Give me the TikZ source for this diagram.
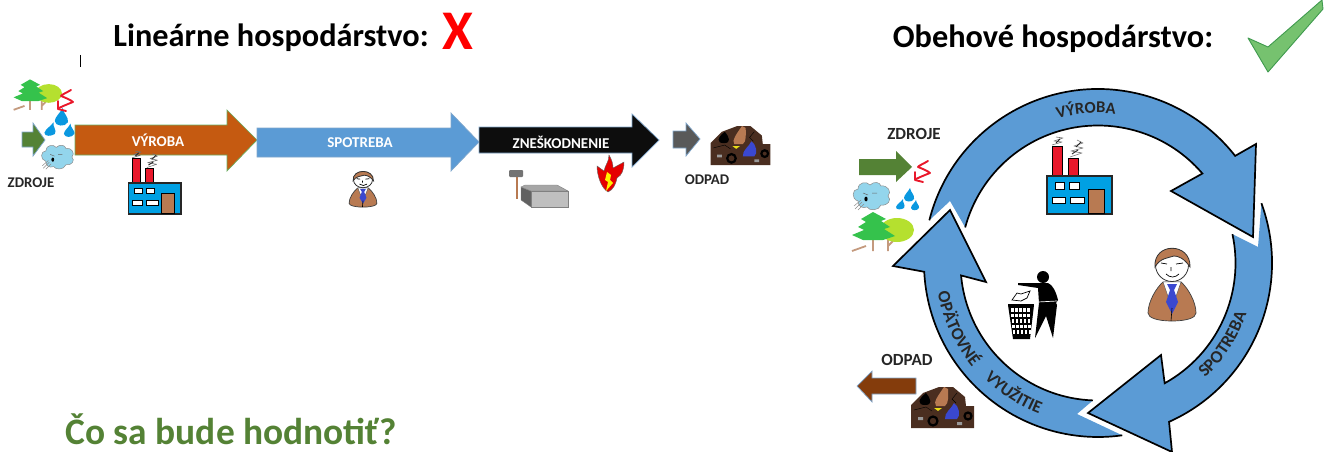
\documentclass[tikz,border=0pt]{standalone}
\usepackage{fontspec}
\setmainfont{Carlito}
\usetikzlibrary{decorations.text}
\definecolor{ringblue}{HTML}{5B9BD5}
\definecolor{edgeblue}{HTML}{7FA6CC}
\definecolor{orangeb}{HTML}{C55A11}
\definecolor{darkgreen}{HTML}{548235}
\definecolor{wood}{HTML}{843C0C}
\definecolor{tan}{HTML}{B87A52}
\definecolor{skyb}{HTML}{00A0E3}
\definecolor{heap}{HTML}{4A2E20}
\definecolor{firgreen}{HTML}{35C24C}
\definecolor{limeg}{HTML}{B5E02F}
\definecolor{trunk}{HTML}{C49A7E}
\definecolor{cloudb}{HTML}{93D5EC}
\definecolor{dropb}{HTML}{0A98E0}
\definecolor{redz}{HTML}{E9182B}
\definecolor{checkf}{HTML}{76C26F}
\definecolor{checke}{HTML}{3F9A4E}
\definecolor{tieblue}{HTML}{3A48D0}
\tikzset{
  flatarrow/.style={draw=edgeblue,line width=.7pt,line join=miter},
  ringfill/.style={fill=ringblue},
  ringline/.style={draw=black,line width=1.7pt,line join=miter},
  title/.style={font=\bfseries\fontsize{32.3}{34}\selectfont,anchor=center,inner sep=0pt},
  lbl/.style={font=\bfseries\fontsize{17}{18}\selectfont,inner sep=0pt,text=black!85},
  lbls/.style={font=\bfseries\fontsize{14.8}{16}\selectfont,inner sep=0pt,text=black!85},
  lblw/.style={font=\bfseries\fontsize{15}{16}\selectfont,inner sep=0pt,text=white},
  factorypic/.pic={
    \draw[black!55,line width=.6pt,line join=round] (-28,-35) -- (-18,-38) -- (-26,-39) -- (-17,-42) -- (-24,-43)
       (-10,-23) -- (2,-27) -- (-9,-29) -- (3,-32) -- (-6,-34) -- (3,-37) -- (-3,-40);
    \draw[black!85,line width=.9pt] (-24,-37) -- (-20,-41) (-8,-26) -- (-2,-30) (-4,-33) -- (1,-38);
    \fill[redz,draw=black,line width=.8pt] (-28,-34) rectangle (-18,-4);
    \fill[redz,draw=black,line width=.8pt] (-12,-22) rectangle (-2,-4);
    \fill[skyb,draw=black!85,line width=1.2pt] (-33,-4) rectangle (32,34);
    \fill[white,draw=black,line width=.8pt] (-25,2) rectangle (-16,9);
    \fill[white,draw=black,line width=.8pt] (-11,2) rectangle (-1,9);
    \fill[white,draw=black,line width=.8pt] (-28,17) rectangle (-15,23);
    \fill[white,draw=black,line width=.8pt] (-10,17) rectangle (4,23);
    \fill[tan,draw=black,line width=.8pt] (8,9) rectangle (24,33);
  },
  personpic/.pic={
    \fill[tan,draw=black!75,line width=.7pt] (-9,2) .. controls (-16,8) and (-24,22) .. (-24,33)
      .. controls (-24,38) and (-14,41) .. (0,41) .. controls (14,41) and (24,38) .. (24,33)
      .. controls (24,22) and (16,8) .. (9,2) -- cycle;
    \fill[white,draw=black!70,line width=.4pt] (-9,2) -- (9,2) -- (0,28) -- cycle;
    \fill[tieblue] (-5,4) -- (5,4) -- (2,10) -- (6,22) -- (0,34) -- (-6,22) -- (-2,10) -- cycle;
    \draw[black,line width=.6pt] (0,28) -- (-1,41);
    \fill[white,draw=black!80,line width=.8pt] (0,-15) circle (16.5);
    \fill[tan,draw=black!80,line width=.8pt] (-17,-13) .. controls (-19,-38) and (19,-38) .. (18,-13)
      .. controls (12,-22) and (6,-24) .. (2,-24) .. controls (-4,-22) and (-12,-22) .. (-17,-13) -- cycle;
    \draw[black,line width=.7pt] (-11,-17) -- (-5,-16) (4,-16) -- (11,-17) (-1,-13) -- (-1,-9)
      (-6,-6) .. controls (-2,-2) and (3,-2) .. (7,-6);
  },
  heappic/.pic={
    \fill[heap] (-31,20) -- (-31,-3) -- (-19,-15) -- (-3,-21) -- (11,-21) -- (23,-11) -- (24,-2) -- (32,-2) -- (32,20) -- cycle;
    \fill[tan] (-6,-2) .. controls (-9,-6) and (-4,-12) .. (2,-21) -- (6,-19) .. controls (6,-12) and (7,-5) .. (3,-2) -- cycle;
    \fill[black] (-17,-3) .. controls (-25,-3) and (-24,-9) .. (-16,-15) .. controls (-11,-9) and (-9,-3) .. (-17,-3) -- cycle;
    \fill[tieblue] (3,11) .. controls (2,5) and (10,0) .. (12,-5) .. controls (17,-2) and (19,8) .. (15,11) -- cycle;
    \fill[yellow!90!black] (-8,0) -- (0,0) -- (-4,3) -- cycle;
    \draw[black,line width=2.2pt] (-9,13) circle (4.5) (26,8) circle (3.5);
    \fill[black!40] (-24,9) rectangle (-19,12) (15,14) rectangle (20,17);
    \draw[black,line width=.4pt] (-28,2) -- (-16,-1) -- (-10,3) (15,-15) -- (10,-9) -- (14,-5);
  },
  cloudpic/.pic={
    \fill[cloudb,draw=black!45,line width=.5pt] (-14,5) .. controls (-21,3) and (-20,-7) .. (-14,-7)
      .. controls (-14,-14) and (-5,-15) .. (-2,-11) .. controls (2,-15) and (8,-14) .. (9,-10)
      .. controls (16,-11) and (20,-4) .. (16,0) .. controls (20,4) and (16,10) .. (9,9)
      .. controls (7,15) and (-3,15) .. (-5,11) .. controls (-10,13) and (-14,10) .. (-14,5) -- cycle;
    \fill[black] (-6,3) ellipse (1.6 and 2.4);
    \draw[black!60,line width=.5pt] (-9,-3) -- (-4,-1) (0,-3) -- (5,-3);
    \draw[black!45,line width=.5pt] (-10,6) -- (-17,13) (-8,8) -- (-14,14) (-11,4) -- (-18,10);
  },
  dropspic/.pic={
    \fill[dropb] (2,-10) .. controls (3,-5) and (7,-3) .. (6,1) .. controls (4,5) and (-4,4) .. (-4,0) .. controls (-4,-3) and (0,-6) .. (2,-10) -- cycle;
    \fill[dropb] (-5,1) .. controls (-6,4) and (-2,7) .. (-4,10) .. controls (-7,12) and (-12,12) .. (-12,9) .. controls (-11,6) and (-7,4) .. (-5,1) -- cycle;
    \fill[dropb] (8,2) .. controls (8,5) and (12,8) .. (11,10) .. controls (9,13) and (4,13) .. (3,10) .. controls (3,7) and (7,5) .. (8,2) -- cycle;
  },
  treespic/.pic={
    \draw[trunk,line width=1.8pt] (-21,19) -- (-7,14) (0,8) -- (0,19) (15,8) -- (15,19) (15,14) -- (20,9);
    \fill[limeg] (24,-2) ellipse (17 and 12);
    \fill[firgreen] (0,-20) -- (13,-13) -- (8,-11) -- (17,-5) -- (11,-3) -- (22,4) -- (10,8) -- (-10,8) -- (-21,3) -- (-9,-2) -- (-15,-5) -- (-7,-10) -- (-12,-13) -- cycle;
  },
  boltpic/.pic={
    \draw[redz,line width=1.9pt,line join=round,line cap=round] (13,-11) .. controls (8,-8) and (3,-6) .. (3,-5) .. controls (8,-3) and (13,-1) .. (15,1) .. controls (10,3) and (5,5) .. (1,7);
    \draw[redz,line width=1.9pt,line cap=round,line join=round] (0,0) -- (0,8) -- (8,10);
  },
}
\begin{document}
\begin{tikzpicture}[x=1pt,y=-1pt]
\useasboundingbox (0,0) rectangle (1325,452);
\coordinate (ringc) at (1098,263);

% titles
\node[title] (t1) at (271,38) {Lineárne hospodárstvo:};
\node[title] (t2) at (1053,39) {Obehové hospodárstvo:};
\node[font=\bfseries\fontsize{56}{56}\selectfont,text=red,inner sep=0pt] (xmark) at (458,31) {X};
\node[font=\bfseries\fontsize{37.4}{39}\selectfont,text=darkgreen,inner sep=0pt] (q) at (231,429) {Čo sa bude hodnotiť?};
\draw[black,line width=.8pt] (80,55) -- (80,67);
\fill[checkf,draw=checke,line width=.9pt,line join=round] (1248,38) -- (1268,47) -- (1322,0) -- (1323,9) -- (1268,72) -- cycle;

% linear arrows
\fill[darkgreen,flatarrow] (22,132) -- (33,132) -- (33,123) -- (45,140) -- (33,156) -- (33,147) -- (22,147) -- cycle;
\fill[orangeb,draw=checkf!90!black,line width=.7pt] (75,125) -- (227,125) -- (227,110) -- (257,140) -- (227,171) -- (227,155) -- (75,155) -- cycle;
\fill[ringblue,flatarrow] (257,128) -- (451,128) -- (451,113) -- (479,142) -- (451,171) -- (451,157) -- (257,157) -- cycle;
\fill[black!95,flatarrow] (479,127) -- (632,127) -- (632,114) -- (659,140) -- (632,167) -- (632,153) -- (479,153) -- cycle;
\fill[black!65,flatarrow] (673,131) -- (686,131) -- (686,123) -- (700,139) -- (686,156) -- (686,148) -- (673,148) -- cycle;
\node[lblw] (v1) at (158,140) {VÝROBA};
\node[lblw] (s1) at (360,143) {SPOTREBA};
\node[lblw] (z1) at (561,142) {ZNEŠKODNENIE};
\node[lbls] (zd1) at (31,183) {ZDROJE};
\node[lbls] (od1) at (707,180) {ODPAD};

% linear icons
\pic[scale=.815] at (155,186.3) {factorypic};
\pic[xscale=.58,yscale=.49] at (363,187) {personpic};
\pic[scale=.95] at (740,146) {heappic};
\pic[scale=.87] at (58,157) {cloudpic};
\pic[scale=1.3] at (60,121) {dropspic};
\pic[scale=.78] at (30,95) {treespic};
\pic[scale=1] at (58,101) {boltpic};

% hammer and block
\draw[tan,line width=1.8pt] (517,175) -- (517,199);
\fill[black!55,rounded corners=1pt] (509,170) rectangle (523,177);
\fill[black!62,draw=black!50,line width=.4pt] (521,187) -- (531,191) -- (531,207) -- (521,200) -- cycle;
\fill[black!35,draw=black!50,line width=.4pt] (521,187) -- (525,185) -- (557,185) -- (568,191) -- (531,191) -- cycle;
\fill[black!25,draw=black!50,line width=.4pt] (531,191) rectangle (568,207);

% flame
\fill[red!90!black,draw=black!60,line width=.4pt] (608,192) .. controls (601,188) and (597,175) .. (597,166) -- (604,171) .. controls (605,165) and (609,162) .. (609,155)
  .. controls (612,160) and (613,164) .. (613,168) -- (624,162) .. controls (624,170) and (622,175) .. (617,178) .. controls (616,184) and (613,190) .. (608,192) -- cycle;
\fill[yellow] (607,172) -- (611,175) -- (610,180) -- (613,183) -- (606,191) -- (608,182) -- (605,180) -- cycle;

% ring
\def\ringA{([shift={(-165.8:174)}]ringc) arc (-165.8:-38:174) -- (1256,144) -- (1253,237) -- (1171,191) -- ([shift={(-40.6:137.5)}]ringc) arc (-40.6:-165:137.5)}
\def\ringB{([shift={(-20.1:174)}]ringc) arc (-20.1:65.9:174) -- (1172,452) -- (1088,413) -- (1161,355) -- ([shift={(61:137.5)}]ringc) arc (61:-12.1:137.5)}
\def\ringC{([shift={(82:174)}]ringc) arc (82:177.1:174) -- (893,266) -- (950,210) -- (986,282) -- ([shift={(174.8:137.5)}]ringc) arc (174.8:92.1:137.5)}
\fill[ringfill] \ringA -- (950,201) -- cycle;
\fill[ringfill] \ringB -- (1258,247) -- cycle;
\fill[ringfill] \ringC -- (1077,414) -- cycle;
\path[ringline] \ringA;
\path[ringline] \ringB;
\path[ringline] \ringC;

\path[decorate,decoration={text along path,text align=center,text={|\bfseries\fontsize{16.5}{17}\selectfont\color{black!85}|VÝROBA}}]
  ([shift={(-119.5:150)}]ringc) arc (-119.5:-69.5:150);
\path[decorate,decoration={text along path,text align=center,text={|\bfseries\fontsize{17.5}{18}\selectfont\color{black!85}|SPOTREBA}}]
  ([shift={(58:157)}]ringc) arc (58:8:157);
\path[decorate,decoration={text along path,text align=center,text={|\bfseries\fontsize{17.5}{18}\selectfont\color{black!85}|OPÄTOVNÉ}}]
  ([shift={(-180:163)}]ringc) arc (-180:-230:163);
\path[decorate,decoration={text along path,text align=center,text={|\bfseries\fontsize{17.5}{18}\selectfont\color{black!85}|VYUŽITIE}}]
  ([shift={(-215:162)}]ringc) arc (-215:-259:162);

% ring icons
\pic at (1080,180) {factorypic};
\pic at (1172,280) {personpic};
\pic at (942,408) {heappic};
\pic at (872,196) {cloudpic};
\pic at (908,198) {dropspic};
\pic at (873,232) {treespic};
\pic at (915,172) {boltpic};

% side arrows
\fill[darkgreen] (859,159) -- (896,159) -- (896,151) -- (912,167) -- (896,182) -- (896,175) -- (859,175) -- cycle;
\fill[wood,flatarrow] (916,378) -- (872,378) -- (872,371) -- (857,386) -- (872,402) -- (872,394) -- (916,394) -- cycle;
\node[lbl] (zd2) at (914,134) {ZDROJE};
\node[lbl] (od2) at (907,360) {ODPAD};

% man with bin
\fill[black] (1043,277) circle (6);
\fill[black] (1018,283) -- (1037,283) -- (1048,283) .. controls (1053,285) and (1056,292) .. (1058,300) -- (1056,303) -- (1057,305) -- (1053,338) -- (1046,316) -- (1035,338) -- (1039,303) -- (1038,288) -- (1018,285) -- cycle;
\draw[white,line width=.7pt] (1038,302) -- (1057,301);
\fill[white,draw=black,line width=.7pt] (1012,300) -- (1017,293) -- (1021,294) -- (1030,291) -- (1027,298) -- (1021,301) -- cycle;
\draw[black,line width=1.5pt] (1008,304.5) -- (1034,304.5);
\fill[black] (1008,305) -- (1034,305) -- (1030,339) -- (1013,339) -- cycle;
\foreach \t in {0,.2,.4,.6,.8}{
  \foreach \u in {0,.2,.4,.6,.8}{
    \fill[white] ({1011+\u*20+\t*2},{308+\t*28}) rectangle ++(2.5,3.5);
  }
}
\end{tikzpicture}
\end{document}
